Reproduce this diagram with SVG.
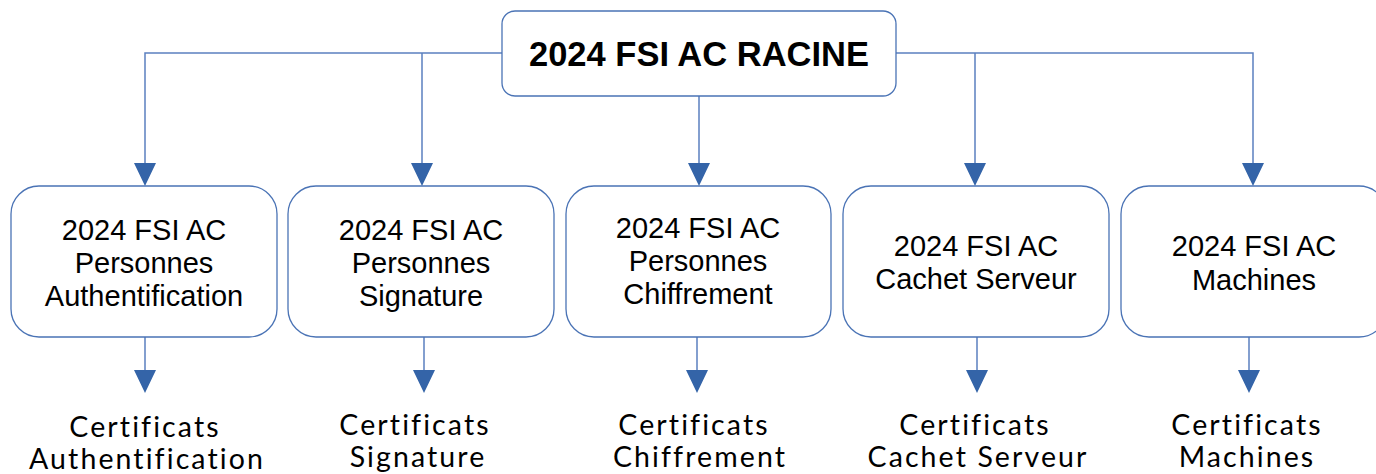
<svg xmlns="http://www.w3.org/2000/svg" width="1376" height="474" viewBox="0 0 1376 474">
<defs>
<style>
.box{fill:#fff;stroke:#4a73b5;stroke-width:1.3}
.ln{fill:none;stroke:#5b80c0;stroke-width:1.5}
.ah{fill:#3464a8}
.t{font-family:"Liberation Sans",Arial,sans-serif;font-size:29px;fill:#000;text-anchor:middle}
.r{font-family:"Liberation Sans",Arial,sans-serif;font-size:34.5px;font-weight:bold;fill:#000;text-anchor:middle}
.c{font-family:Lato,"Noto Sans",sans-serif;font-size:28.5px;letter-spacing:2.1px;font-variant-ligatures:none;font-feature-settings:"liga" 0;fill:#000;text-anchor:middle}
</style>
</defs>
<rect width="1376" height="474" fill="#fff"/>
<g id="connectors">
<path class="ln" d="M502,53 H145 V165 M422,53 V165 M896,53 H1253 V165 M975,53 V165 M699,96 V165"/>
<path class="ah" d="M134,163 L156,163 L145,186 Z M411,163 L433,163 L422,186 Z M688,163 L710,163 L699,186 Z M964,163 L986,163 L975,186 Z M1242,163 L1264,163 L1253,186 Z"/>
<path class="ln" d="M145,337 V372 M424,337 V372 M697,337 V372 M977,337 V372 M1249,337 V372"/>
<path class="ah" d="M134,370 L156,370 L145,393 Z M413,370 L435,370 L424,393 Z M686,370 L708,370 L697,393 Z M966,370 L988,370 L977,393 Z M1238,370 L1260,370 L1249,393 Z"/>
</g>
<g id="root">
<rect class="box" x="502" y="11" width="394" height="85" rx="13"/>
<text class="r" x="699" y="66">2024 FSI AC RACINE</text>
</g>
<g id="n1">
<rect class="box" x="11" y="186" width="266" height="151" rx="28"/>
<text class="t" x="144" y="240">2024 FSI AC</text>
<text class="t" x="144" y="273">Personnes</text>
<text class="t" x="144" y="306">Authentification</text>
</g>
<g id="n2">
<rect class="box" x="288" y="186" width="266" height="151" rx="28"/>
<text class="t" x="421" y="240">2024 FSI AC</text>
<text class="t" x="421" y="273">Personnes</text>
<text class="t" x="421" y="306">Signature</text>
</g>
<g id="n3">
<rect class="box" x="566" y="186" width="265" height="151" rx="28"/>
<text class="t" x="698" y="238">2024 FSI AC</text>
<text class="t" x="698" y="271">Personnes</text>
<text class="t" x="698" y="304">Chiffrement</text>
</g>
<g id="n4">
<rect class="box" x="843" y="186" width="266" height="151" rx="28"/>
<text class="t" x="976" y="256">2024 FSI AC</text>
<text class="t" x="976" y="289">Cachet Serveur</text>
</g>
<g id="n5">
<rect class="box" x="1121" y="186" width="266" height="151" rx="28"/>
<text class="t" x="1254" y="256">2024 FSI AC</text>
<text class="t" x="1254" y="290">Machines</text>
</g>
<g id="l1">
<text class="c" x="145" y="437">Certificats</text>
<text class="c" x="147" y="469">Authentification</text>
</g>
<g id="l2">
<text class="c" x="415" y="435">Certificats</text>
<text class="c" x="418" y="467">Signature</text>
</g>
<g id="l3">
<text class="c" x="694" y="435">Certificats</text>
<text class="c" x="700" y="467">Chiffrement</text>
</g>
<g id="l4">
<text class="c" x="975" y="435">Certificats</text>
<text class="c" x="978" y="467">Cachet Serveur</text>
</g>
<g id="l5">
<text class="c" x="1247" y="435">Certificats</text>
<text class="c" x="1247" y="467">Machines</text>
</g>
</svg>
